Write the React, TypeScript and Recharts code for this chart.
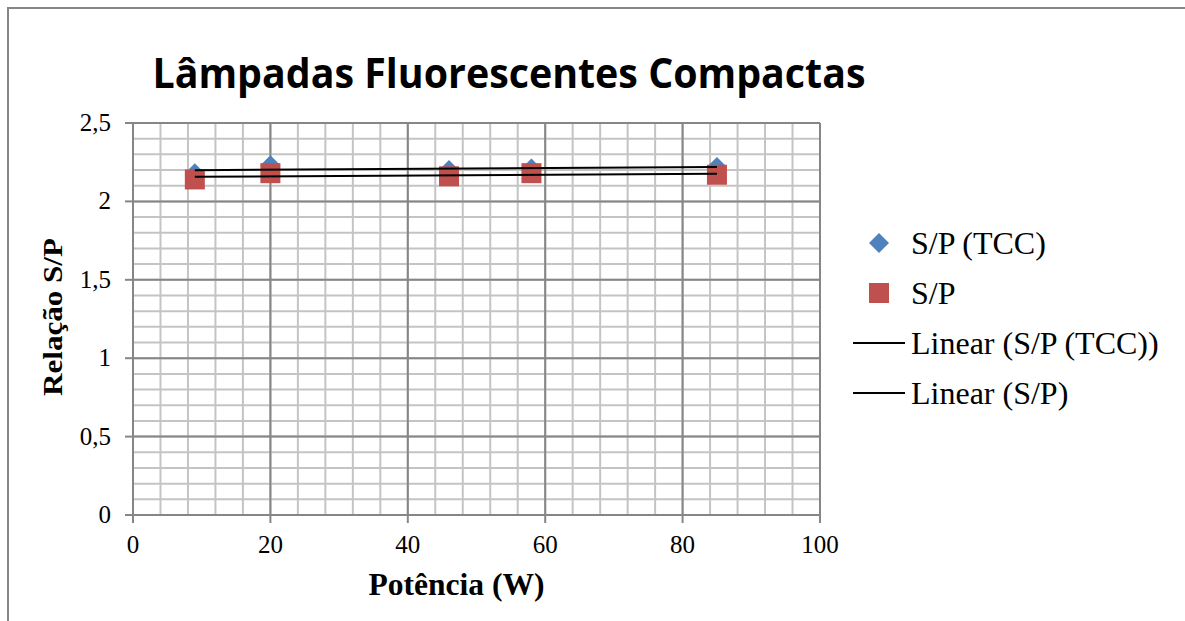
import React from 'react';
import {
  ScatterChart,
  Scatter,
  XAxis,
  YAxis,
  CartesianGrid,
  ReferenceLine,
  Legend,
  Label,
} from 'recharts';

// Potência (W) of each lamp
const potencia = [9, 20, 46, 58, 85];
// S/P ratio (TCC method) and measured S/P
const spTcc = [2.18, 2.23, 2.2, 2.21, 2.22];
const spMedido = [2.14, 2.18, 2.16, 2.18, 2.17];

// labelled (major) ticks
const xTicks = [0, 20, 40, 60, 80, 100];
const yTicks = [0, 0.5, 1, 1.5, 2, 2.5];
// minor gridlines
const xMinorTicks = [0, 4, 8, 12, 16, 20, 24, 28, 32, 36, 40, 44, 48, 52, 56, 60, 64, 68, 72, 76, 80, 84, 88, 92, 96, 100];
const yMinorTicks = [0, 0.1, 0.2, 0.3, 0.4, 0.5, 0.6, 0.7, 0.8, 0.9, 1, 1.1, 1.2, 1.3, 1.4, 1.5, 1.6, 1.7, 1.8, 1.9, 2, 2.1, 2.2, 2.3, 2.4, 2.5];

const legendLabels = ['S/P (TCC)', 'S/P', 'Linear (S/P (TCC))', 'Linear (S/P)'];

const BLUE = '#4F81BD';
const RED = '#C0504D';
const AXIS = '#868686';
const MINOR = '#c4c4c4';
const SERIF = '"Liberation Serif", "Times New Roman", serif';

// least squares line, like Excel's linear trendline, drawn over the data range
function linearTrend(xs: number[], ys: number[]) {
  const n = xs.length;
  const mx = xs.reduce((a, b) => a + b, 0) / n;
  const my = ys.reduce((a, b) => a + b, 0) / n;
  let num = 0;
  let den = 0;
  xs.forEach((x, i) => {
    num += (x - mx) * (ys[i] - my);
    den += (x - mx) * (x - mx);
  });
  const slope = num / den;
  const lo = Math.min(...xs);
  const hi = Math.max(...xs);
  return [
    { x: lo, y: my + slope * (lo - mx) },
    { x: hi, y: my + slope * (hi - mx) },
  ];
}

const tccData = potencia.map((x, i) => ({ x, y: spTcc[i] }));
const spData = potencia.map((x, i) => ({ x, y: spMedido[i] }));
const tccTrend = linearTrend(potencia, spTcc);
const spTrend = linearTrend(potencia, spMedido);

const fmt = (v: number) => String(v).replace('.', ',');

function Diamond(props: any) {
  const { cx, cy } = props;
  const r = 10;
  return <path d={`M${cx},${cy - r}L${cx + r},${cy}L${cx},${cy + r}L${cx - r},${cy}Z`} fill={BLUE} />;
}

function Square(props: any) {
  const { cx, cy } = props;
  return <rect x={cx - 10} y={cy - 10} width={20} height={20} fill={RED} />;
}

const NoDot = () => <g />;

// axis ticks fall on every minor gridline; only the major ones get a mark and a label
function XTick(props: any) {
  const { x, y, payload } = props;
  if (!xTicks.includes(payload.value)) return <g />;
  return (
    <g>
      <line x1={x} x2={x} y1={y} y2={y + 8} stroke={AXIS} strokeWidth={2} />
      <text x={x} y={y + 38} textAnchor="middle" fontFamily={SERIF} fontSize={25} fill="#000">
        {fmt(payload.value)}
      </text>
    </g>
  );
}

function YTick(props: any) {
  const { x, y, payload } = props;
  if (!yTicks.includes(payload.value)) return <g />;
  return (
    <g>
      <line x1={x - 8} x2={x} y1={y} y2={y} stroke={AXIS} strokeWidth={2} />
      <text x={x - 22} y={y + 8} textAnchor="end" fontFamily={SERIF} fontSize={25} fill="#000">
        {fmt(payload.value)}
      </text>
    </g>
  );
}

function LegendBox() {
  return (
    <div style={{ fontFamily: SERIF, fontSize: 32, color: '#000' }}>
      {legendLabels.map((label, i) => (
        <div key={label} style={{ display: 'flex', alignItems: 'center', height: 50 }}>
          <svg width={61} height={50}>
            {i === 0 && <path d="M29,15L39,25L29,35L19,25Z" fill={BLUE} />}
            {i === 1 && <rect x={19} y={15} width={20} height={20} fill={RED} />}
            {i >= 2 && <line x1={3} x2={55} y1={25} y2={25} stroke="#000" strokeWidth={2} />}
          </svg>
          <span style={{ whiteSpace: 'nowrap' }}>{label}</span>
        </div>
      ))}
    </div>
  );
}

function XTitle(props: any) {
  const { viewBox } = props;
  return (
    <text
      x={viewBox.x + viewBox.width / 2 - 20}
      y={viewBox.y + 80}
      textAnchor="middle"
      fontFamily={SERIF}
      fontWeight="bold"
      fontSize={31}
      textLength={176}
      lengthAdjust="spacingAndGlyphs"
      fill="#000"
    >
      Potência (W)
    </text>
  );
}

function YTitle(props: any) {
  const { viewBox } = props;
  const cx = viewBox.x + 62;
  const cy = viewBox.y + viewBox.height / 2 - 2;
  return (
    <text
      x={cx}
      y={cy}
      transform={`rotate(-90, ${cx}, ${cy})`}
      textAnchor="middle"
      fontFamily={SERIF}
      fontWeight="bold"
      fontSize={27}
      textLength={158}
      lengthAdjust="spacingAndGlyphs"
      fill="#000"
    >
      Relação S/P
    </text>
  );
}

export default function App() {
  return (
    <div
      style={{
        position: 'absolute',
        left: 0,
        top: 0,
        width: 1185,
        height: 621,
        overflow: 'hidden',
        background: '#fff',
      }}
    >
      <div
        style={{
          position: 'absolute',
          left: 7,
          top: 7,
          width: 1300,
          height: 800,
          borderLeft: `2px solid ${AXIS}`,
          borderTop: `2px solid ${AXIS}`,
        }}
      />
      <svg style={{ position: 'absolute', left: 0, top: 0 }} width={1185} height={110}>
        <text
          x={509}
          y={88}
          textAnchor="middle"
          fontFamily='"Open Sans", "Noto Sans", sans-serif'
          fontWeight="bold"
          fontSize={42}
          textLength={713}
          lengthAdjust="spacingAndGlyphs"
          fill="#000"
        >
          Lâmpadas Fluorescentes Compactas
        </text>
      </svg>
      <div style={{ position: 'absolute', left: 0, top: 0 }}>
        <ScatterChart
          width={1185}
          height={621}
          margin={{ top: 123, right: 35, bottom: 0, left: 0 }}
        >
          <CartesianGrid stroke={MINOR} strokeWidth={2} />
          {xTicks.map((v) => (
            <ReferenceLine key={`vx${v}`} x={v} stroke={AXIS} strokeWidth={2} />
          ))}
          {yTicks.map((v) => (
            <ReferenceLine key={`hy${v}`} y={v} stroke={AXIS} strokeWidth={2} />
          ))}
          <XAxis
            type="number"
            dataKey="x"
            domain={[0, 100]}
            ticks={xMinorTicks}
            interval={0}
            height={106}
            tickSize={0}
            tickMargin={0}
            axisLine={{ stroke: AXIS, strokeWidth: 2 }}
            tickLine={false}
            tick={<XTick />}
            label={<Label content={<XTitle />} />}
          />
          <YAxis
            type="number"
            dataKey="y"
            domain={[0, 2.5]}
            ticks={yMinorTicks}
            interval={0}
            width={133}
            tickSize={0}
            tickMargin={0}
            axisLine={{ stroke: AXIS, strokeWidth: 2 }}
            tickLine={false}
            tick={<YTick />}
            label={<Label content={<YTitle />} />}
          />
          <Scatter
            name="S/P (TCC)"
            data={tccData}
            dataKey="y"
            shape={<Diamond />}
            isAnimationActive={false}
          />
          <Scatter
            name="S/P"
            data={spData}
            dataKey="y"
            shape={<Square />}
            isAnimationActive={false}
          />
          <Scatter
            name="Linear (S/P (TCC))"
            data={tccTrend}
            dataKey="y"
            shape={NoDot}
            line={{ stroke: '#000', strokeWidth: 2 }}
            isAnimationActive={false}
          />
          <Scatter
            name="Linear (S/P)"
            data={spTrend}
            dataKey="y"
            shape={NoDot}
            line={{ stroke: '#000', strokeWidth: 2 }}
            isAnimationActive={false}
          />
          <Legend
            layout="horizontal"
            verticalAlign="middle"
            align="right"
            content={<LegendBox />}
            wrapperStyle={{ left: 850, top: 218, width: 330 }}
          />
        </ScatterChart>
      </div>
    </div>
  );
}
